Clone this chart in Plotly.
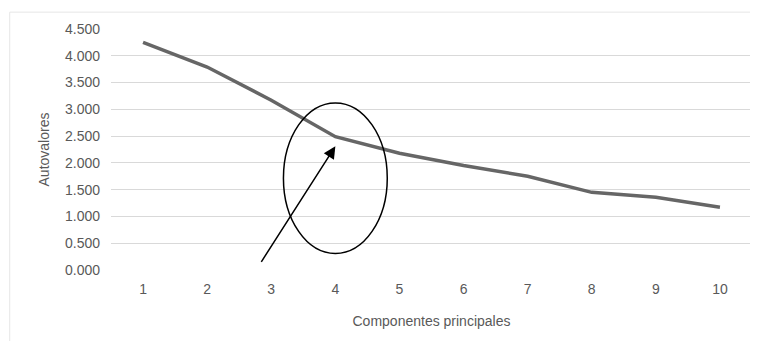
import plotly.graph_objects as go

componentes = [1, 2, 3, 4, 5, 6, 7, 8, 9, 10]
autovalores = [4.25, 3.79, 3.17, 2.49, 2.18, 1.95, 1.75, 1.45, 1.36, 1.17]
y_ticks = [0, 0.5, 1, 1.5, 2, 2.5, 3, 3.5, 4, 4.5]

font_family = "Liberation Sans"
gray = "#595959"

fig = go.Figure()
fig.add_trace(go.Scatter(
    x=componentes, y=autovalores, mode="lines",
    line=dict(color="#666666", width=3.5), showlegend=False,
))

# highlight ellipse around component 4
fig.add_shape(type="circle", xref="x", yref="y",
              x0=3.19, x1=4.81, y0=0.31, y1=3.12,
              line=dict(color="black", width=1.5))
# arrow pointing to elbow
fig.add_annotation(x=4, y=2.31, ax=2.83, ay=0.125,
                   xref="x", yref="y", axref="x", ayref="y",
                   showarrow=True, arrowhead=2, arrowsize=1.6,
                   arrowwidth=1.5, arrowcolor="black", text="")
# chart border
fig.add_shape(type="rect", xref="paper", yref="paper",
              x0=-0.158, x1=1.005, y0=-0.35, y1=1.07,
              line=dict(color="#e6e6e6", width=1))

fig.update_layout(
    width=750, height=333,
    margin=dict(l=103, r=6, t=21, b=71),
    paper_bgcolor="white", plot_bgcolor="white",
    font=dict(family=font_family, size=14, color=gray),
    xaxis=dict(
        range=[0.5, 10.5], tickmode="array", tickvals=componentes,
        showgrid=False, zeroline=False, showline=False, ticks="",
        ticklabelstandoff=9,
        title=dict(text="Componentes principales", standoff=20,
                   font=dict(size=14, color=gray)),
        tickfont=dict(size=14, color=gray),
    ),
    yaxis=dict(
        range=[0, 4.5], tickmode="array", tickvals=y_ticks,
        tickformat=".3f", showgrid=True, gridcolor="#d9d9d9", gridwidth=1,
        zeroline=False, showline=False, ticks="", ticklabelstandoff=10,
        title=dict(text="Autovalores", standoff=12,
                   font=dict(size=14, color=gray)),
        tickfont=dict(size=14, color=gray),
    ),
)

fig.write_html("out.html")
